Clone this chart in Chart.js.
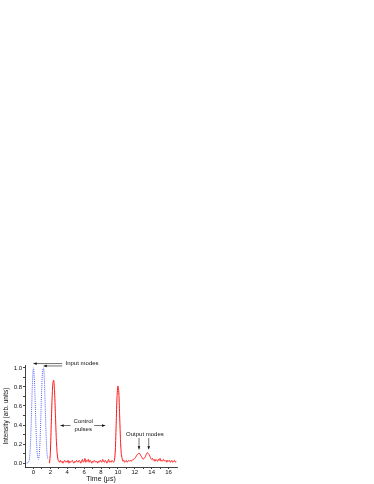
<!DOCTYPE html>
<html>
<head>
<meta charset="utf-8">
<script src="https://cdn.jsdelivr.net/npm/chart.js@4"></script>
<style>html,body{margin:0;padding:0;background:#fff}</style>
</head>
<body>
<canvas id="pulseChart" width="374" height="484"></canvas>
<script>
// input modes (blue, dotted)
const inputTime = [-0.8, -0.6, -0.5, -0.4, -0.3, -0.2, -0.1, 0.0, 0.1, 0.2, 0.3, 0.4, 0.5,
                   0.6, 0.7, 0.8, 0.9, 1.0, 1.1, 1.2, 1.3, 1.4, 1.5, 1.6, 1.7];
const inputIntensity = [0.00, 0.01, 0.03, 0.12, 0.32, 0.62, 0.88, 1.00, 0.90, 0.66, 0.38, 0.17, 0.06,
                        0.04, 0.10, 0.28, 0.56, 0.83, 0.98, 1.00, 0.86, 0.58, 0.30, 0.11, 0.04];

// control pulses + output modes (red, solid)
const outputTime = [
  1.9, 2.0, 2.1, 2.2, 2.3, 2.4, 2.5, 2.6, 2.7, 2.8,
  2.9, 3.0, 3.1, 3.2, 3.3, 3.4, 3.5, 3.6, 3.7, 3.8,
  3.9, 4.0, 4.1, 4.2, 4.3, 4.4, 4.5, 4.6, 4.7, 4.8,
  4.9, 5.0, 5.1, 5.2, 5.3, 5.4, 5.5, 5.6, 5.7, 5.8,
  5.9, 6.0, 6.1, 6.2, 6.3, 6.4, 6.5, 6.6, 6.7, 6.8,
  6.9, 7.0, 7.1, 7.2, 7.3, 7.4, 7.5, 7.6, 7.7, 7.8,
  7.9, 8.0, 8.1, 8.2, 8.3, 8.4, 8.5, 8.6, 8.7, 8.8,
  8.9, 9.0, 9.1, 9.2, 9.3, 9.4, 9.5, 9.6, 9.7, 9.8,
  9.9, 10.0, 10.1, 10.2, 10.3, 10.4, 10.5, 10.6, 10.7, 10.8,
  10.9, 11.0, 11.1, 11.2, 11.3, 11.4, 11.5, 11.6, 11.7, 11.8,
  11.9, 12.0, 12.1, 12.2, 12.3, 12.4, 12.5, 12.6, 12.7, 12.8,
  12.9, 13.0, 13.1, 13.2, 13.3, 13.4, 13.5, 13.6, 13.7, 13.8,
  13.9, 14.0, 14.1, 14.2, 14.3, 14.4, 14.5, 14.6, 14.7, 14.8,
  14.9, 15.0, 15.1, 15.2, 15.3, 15.4, 15.5, 15.6, 15.7, 15.8,
  15.9, 16.0, 16.1, 16.2, 16.3, 16.4, 16.5, 16.6, 16.7, 16.8,
  16.9
];
const outputIntensity = [
  0.00, 0.10, 0.38, 0.66, 0.84, 0.87, 0.76, 0.52, 0.27, 0.11,
  0.04, 0.02, 0.01, 0.03, 0.01, 0.02, 0.00, 0.02, 0.03, 0.01,
  0.02, 0.01, 0.03, 0.00, 0.02, 0.01, 0.02, 0.03, 0.01, 0.00,
  0.02, 0.01, 0.03, 0.02, 0.01, 0.03, 0.02, 0.00, 0.02, 0.04,
  0.01, 0.02, 0.05, 0.01, 0.03, 0.02, 0.04, 0.01, 0.03, 0.02,
  0.00, 0.02, 0.01, 0.03, 0.02, 0.01, 0.02, 0.00, 0.02, 0.01,
  0.03, 0.02, 0.01, 0.04, 0.02, 0.01, 0.03, 0.02, 0.00, 0.02,
  0.04, 0.01, 0.02, 0.01, 0.03, 0.02, 0.01, 0.03, 0.14, 0.42,
  0.70, 0.81, 0.76, 0.52, 0.26, 0.10, 0.05, 0.02, 0.03, 0.01,
  0.02, 0.03, 0.01, 0.02, 0.03, 0.02, 0.03, 0.02, 0.03, 0.04,
  0.04, 0.05, 0.06, 0.08, 0.09, 0.10, 0.10, 0.10, 0.08, 0.07,
  0.05, 0.04, 0.05, 0.06, 0.08, 0.10, 0.11, 0.10, 0.09, 0.07,
  0.05, 0.04, 0.05, 0.03, 0.04, 0.02, 0.04, 0.03, 0.02, 0.04,
  0.03, 0.05, 0.02, 0.03, 0.02, 0.04, 0.03, 0.02, 0.03, 0.01,
  0.03, 0.02, 0.03, 0.01, 0.02, 0.03, 0.01, 0.02, 0.03, 0.01,
  0.02
];

const xTickValues = [0, 1, 2, 3, 4, 5, 6, 7, 8, 9, 10, 11, 12, 13, 14, 15, 16];
const yTickValues = [0, 0.1, 0.2, 0.3, 0.4, 0.5, 0.6, 0.7, 0.8, 0.9, 1.0];

const FONT = '"Liberation Sans", Arial, sans-serif';

function toPoints(xs, ys) {
    return xs.map((t, i) => ({ x: t, y: ys[i] }));
}

// text labels and arrows drawn over the plot
const notesPlugin = {
    id: 'notes',
    afterDraw(chart) {
        const ctx = chart.ctx;
        const px = v => chart.scales.x.getPixelForValue(v);
        const py = v => chart.scales.y.getPixelForValue(v);

        function arrow(x1, y1, x2, y2) {
            const a = px(x1), b = py(y1), c = px(x2), d = py(y2);
            const ang = Math.atan2(d - b, c - a);
            ctx.beginPath();
            ctx.moveTo(a, b);
            ctx.lineTo(c, d);
            ctx.stroke();
            ctx.beginPath();
            ctx.moveTo(c, d);
            ctx.lineTo(c - 3.5 * Math.cos(ang - 0.4), d - 3.5 * Math.sin(ang - 0.4));
            ctx.lineTo(c - 3.5 * Math.cos(ang + 0.4), d - 3.5 * Math.sin(ang + 0.4));
            ctx.closePath();
            ctx.fill();
        }

        ctx.save();
        ctx.fillStyle = '#111';
        ctx.strokeStyle = '#111';
        ctx.lineWidth = 0.6;
        ctx.font = '6px ' + FONT;
        ctx.textBaseline = 'middle';

        ctx.textAlign = 'left';
        ctx.fillText('Input modes', px(3.8), py(1.045));
        arrow(3.4, 1.045, 0.0, 1.045);
        arrow(3.4, 1.02, 1.2, 1.02);

        ctx.textAlign = 'center';
        ctx.fillText('Control', px(5.9), py(0.435));
        ctx.fillText('pulses', px(5.9), py(0.36));
        arrow(4.4, 0.395, 3.2, 0.395);
        arrow(7.2, 0.395, 8.5, 0.395);

        ctx.fillText('Output modes', px(13.2), py(0.305));
        arrow(12.5, 0.265, 12.5, 0.145);
        arrow(13.65, 0.265, 13.65, 0.145);
        ctx.restore();
    }
};

const ctx = document.getElementById('pulseChart').getContext('2d');
const pulseChart = new Chart(ctx, {
    type: 'line',
    data: {
        datasets: [{
            label: 'Input modes',
            data: toPoints(inputTime, inputIntensity),
            borderColor: 'rgb(70, 80, 245)',
            borderWidth: 0.9,
            borderDash: [1, 1],
            pointRadius: 0,
            tension: 0.3
        }, {
            label: 'Output',
            data: toPoints(outputTime, outputIntensity),
            borderColor: 'rgb(255, 20, 20)',
            borderWidth: 1,
            pointRadius: 0,
            tension: 0.2
        }]
    },
    options: {
        responsive: false,
        animation: false,
        events: [],
        layout: { padding: { left: 0, top: 365, right: 197, bottom: 0 } },
        plugins: { legend: { display: false }, tooltip: { enabled: false } },
        scales: {
            x: {
                type: 'linear',
                min: -1,
                max: 17,
                afterBuildTicks: s => { s.ticks = xTickValues.map(v => ({ value: v })); },
                afterFit: s => { s.height = 17; },
                ticks: {
                    autoSkip: false,
                    maxRotation: 0,
                    padding: 0,
                    color: '#111',
                    font: { family: FONT, size: 6 },
                    callback: v => (v % 2 === 0 ? String(v) : '')
                },
                grid: { drawOnChartArea: false, tickLength: 2, color: '#111', lineWidth: 0.8 },
                border: { color: '#111', width: 0.8 },
                title: {
                    display: true,
                    text: 'Time (μs)',
                    color: '#111',
                    font: { family: FONT, size: 7 },
                    padding: { top: 0, bottom: 1 }
                }
            },
            y: {
                min: -0.04,
                max: 1.03,
                afterBuildTicks: s => { s.ticks = yTickValues.map(v => ({ value: v })); },
                afterFit: s => { s.width = 25; },
                ticks: {
                    autoSkip: false,
                    padding: 1,
                    color: '#111',
                    font: { family: FONT, size: 6 },
                    callback: v => (Math.round(v * 10) % 2 === 0 ? v.toFixed(1) : '')
                },
                grid: { drawOnChartArea: false, tickLength: 2, color: '#111', lineWidth: 0.8 },
                border: { color: '#111', width: 0.8 },
                title: {
                    display: true,
                    text: 'Intensity (arb. units)',
                    color: '#111',
                    font: { family: FONT, size: 6.5 },
                    padding: { top: 2, bottom: 0 }
                }
            }
        }
    },
    plugins: [notesPlugin]
});
</script>
</body>
</html>
